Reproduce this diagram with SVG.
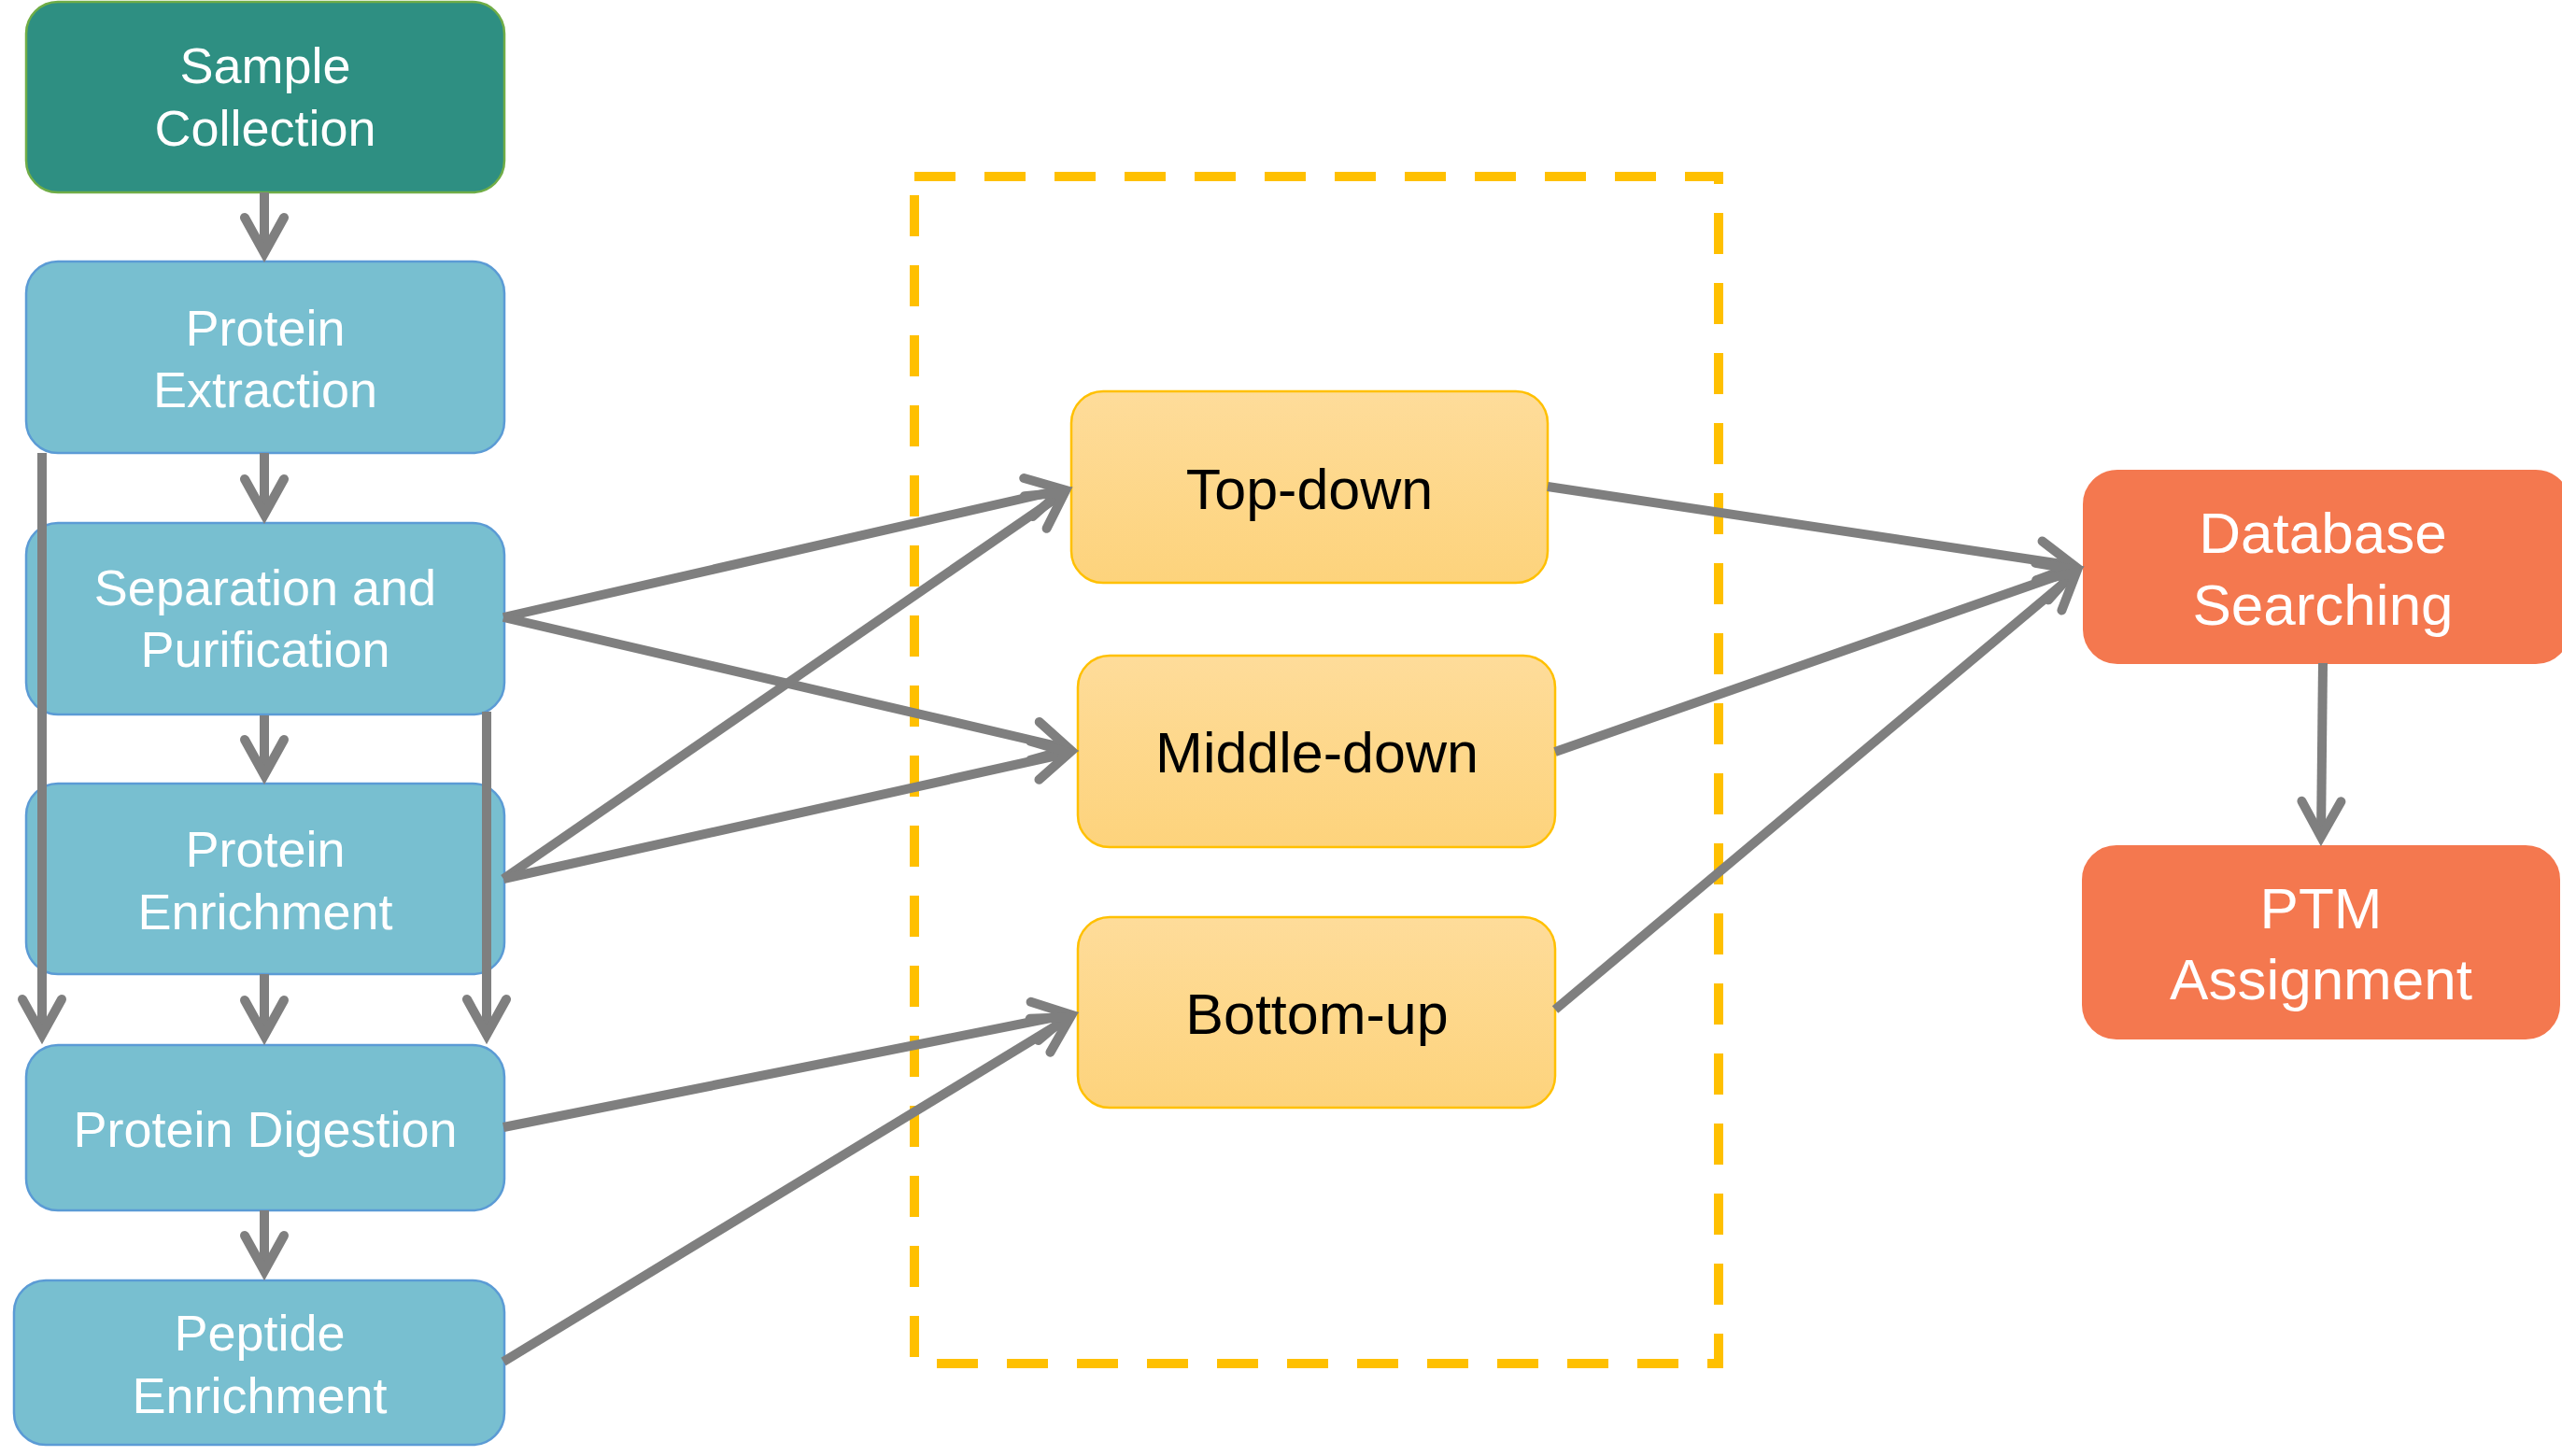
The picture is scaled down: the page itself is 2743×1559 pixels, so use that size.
<svg xmlns="http://www.w3.org/2000/svg" width="2743" height="1559" viewBox="0 0 2743 1559">
<style>
.blue{fill:#78BFD0;stroke:#5B9BD5;stroke-width:2.5}
.teal{fill:#2E8F82;stroke:#70AD47;stroke-width:2.5}
.yel{fill:url(#yg);stroke:#FFC000;stroke-width:2.5}
.org{fill:#F4784F;stroke:#F4784F;stroke-width:2}
.wt{font-family:"Liberation Sans",Arial,sans-serif;fill:#FFFFFF;text-anchor:middle}
.bt{font-family:"Liberation Sans",Arial,sans-serif;fill:#000000;text-anchor:middle;font-size:61px}
.s54{font-size:54px}
.s62{font-size:62px}
.c{fill:none;stroke:#7F7F7F;stroke-width:10;marker-end:url(#ah)}
</style>
<defs>
<linearGradient id="yg" x1="0" y1="0" x2="0" y2="1">
<stop offset="0" stop-color="#FEDC9A"/>
<stop offset="1" stop-color="#FDD37C"/>
</linearGradient>
<marker id="ah" markerUnits="userSpaceOnUse" viewBox="-55 -30 70 60" markerWidth="70" markerHeight="60" refX="0" refY="0" orient="auto" overflow="visible">
<path d="M -38 -21 L 0 0 L -38 21" fill="none" stroke="#7F7F7F" stroke-width="10" stroke-linecap="round" stroke-linejoin="miter" stroke-miterlimit="10"/>
</marker>
</defs>
<rect width="2743" height="1559" fill="#FFFFFF"/>
<rect id="dashed-group" x="979" y="189" width="861" height="1271" fill="none" stroke="#FFC000" stroke-width="10" stroke-dasharray="44 31"/>
<g id="sample-collection">
<rect class="teal" x="28" y="2" width="512" height="204" rx="34"/>
<text class="wt s54" x="284" y="89">Sample</text>
<text class="wt s54" x="284" y="156">Collection</text>
</g>
<g id="protein-extraction">
<rect class="blue" x="28" y="280" width="512" height="205" rx="34"/>
<text class="wt s54" x="284" y="370">Protein</text>
<text class="wt s54" x="284" y="436">Extraction</text>
</g>
<g id="separation-purification">
<rect class="blue" x="28" y="560" width="512" height="205" rx="34"/>
<text class="wt s54" x="284" y="648">Separation and</text>
<text class="wt s54" x="284" y="714">Purification</text>
</g>
<g id="protein-enrichment">
<rect class="blue" x="28" y="839" width="512" height="204" rx="34"/>
<text class="wt s54" x="284" y="928">Protein</text>
<text class="wt s54" x="284" y="995">Enrichment</text>
</g>
<g id="protein-digestion">
<rect class="blue" x="28" y="1119" width="512" height="177" rx="34"/>
<text class="wt s54" x="284" y="1228">Protein Digestion</text>
</g>
<g id="peptide-enrichment">
<rect class="blue" x="15" y="1371" width="525" height="176" rx="34"/>
<text class="wt s54" x="278" y="1446">Peptide</text>
<text class="wt s54" x="278" y="1513">Enrichment</text>
</g>
<g id="top-down">
<rect class="yel" x="1147" y="419" width="510" height="205" rx="34"/>
<text class="bt" x="1402" y="545">Top-down</text>
</g>
<g id="middle-down">
<rect class="yel" x="1154" y="702" width="511" height="205" rx="34"/>
<text class="bt" x="1410" y="827">Middle-down</text>
</g>
<g id="bottom-up">
<rect class="yel" x="1154" y="982" width="511" height="204" rx="34"/>
<text class="bt" x="1410" y="1107">Bottom-up</text>
</g>
<g id="database-searching">
<rect class="org" x="2231" y="504" width="520" height="206" rx="36"/>
<text class="wt s62" x="2487" y="592">Database</text>
<text class="wt s62" x="2487" y="669">Searching</text>
</g>
<g id="ptm-assignment">
<rect class="org" x="2230" y="906" width="510" height="206" rx="36"/>
<text class="wt s62" x="2485" y="994">PTM</text>
<text class="wt s62" x="2485" y="1070">Assignment</text>
</g>
<g id="connectors">
<line class="c" x1="283" y1="206" x2="283" y2="271"/>
<line class="c" x1="283" y1="485" x2="283" y2="551"/>
<line class="c" x1="283" y1="766" x2="283" y2="830"/>
<line class="c" x1="283" y1="1043" x2="283" y2="1109"/>
<line class="c" x1="283" y1="1296" x2="283" y2="1361"/>
<line class="c" x1="45" y1="485" x2="45" y2="1108"/>
<line class="c" x1="521" y1="762" x2="521" y2="1108"/>
<line class="c" x1="539" y1="661" x2="1138" y2="524"/>
<line class="c" x1="539" y1="661" x2="1145" y2="802"/>
<line class="c" x1="539" y1="941" x2="1140" y2="527"/>
<line class="c" x1="539" y1="941" x2="1145" y2="806"/>
<line class="c" x1="539" y1="1207" x2="1145" y2="1086"/>
<line class="c" x1="539" y1="1458" x2="1146" y2="1089"/>
<line class="c" x1="1657" y1="521" x2="2221" y2="606"/>
<line class="c" x1="1665" y1="805" x2="2222" y2="610"/>
<line class="c" x1="1665" y1="1081" x2="2223" y2="613"/>
<line class="c" x1="2487" y1="710" x2="2485" y2="896"/>
</g>
</svg>
